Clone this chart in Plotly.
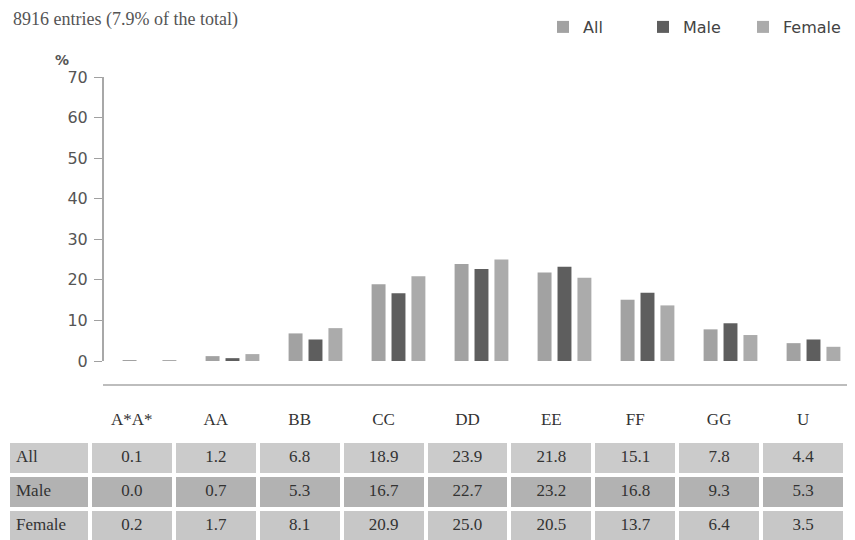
import plotly.graph_objects as go

categories = ["A*A*", "AA", "BB", "CC", "DD", "EE", "FF", "GG", "U"]
all_vals = [0.1, 1.2, 6.8, 18.9, 23.9, 21.8, 15.1, 7.8, 4.4]
male_vals = [0.0, 0.7, 5.3, 16.7, 22.7, 23.2, 16.8, 9.3, 5.3]
female_vals = [0.2, 1.7, 8.1, 20.9, 25.0, 20.5, 13.7, 6.4, 3.5]
series_names = ["All", "Male", "Female"]
y_ticks = [0, 10, 20, 30, 40, 50, 60, 70]
title_text = "8916 entries (7.9% of the total)"

bar_colors = ["#a2a2a2", "#5e5e5e", "#ababab"]
row_colors = ["#cbcbcb", "#b2b2b2", "#c7c7c7"]

# page body has an 8px margin: the figure is sized/positioned to compensate
OFF = 8
W, H = 855 - OFF, 540 - OFF
T = 77 - OFF
plot_h = H - T


def fx(p):
    return (p - OFF) / W


def fy(p):
    return (H - (p - OFF)) / plot_h


fig = go.Figure()
for name, vals, col in zip(series_names, [all_vals, male_vals, female_vals], bar_colors):
    fig.add_trace(go.Bar(x=categories, y=vals, name=name, marker=dict(color=col, line=dict(width=0)),
                         xaxis="x", yaxis="y"))

# table
fmt = lambda v: f"{v:.1f}"
columns = [series_names] + [[fmt(a), fmt(m), fmt(f)] for a, m, f in zip(all_vals, male_vals, female_vals)]
fills = [row_colors for _ in columns]
fig.add_trace(go.Table(
    domain=dict(x=[0, fx(845)], y=[0, fy(404)]),
    columnwidth=[82] + [84] * len(categories),
    header=dict(values=[""] + categories, fill=dict(color="white"), line=dict(color="white", width=0),
                font=dict(family="Liberation Serif", size=17, color="#333"), align="center", height=37),
    cells=dict(values=columns, fill=dict(color=fills), line=dict(color="white", width=4),
               font=dict(family="Liberation Serif", size=17, color="#333"),
               align=["left"] + ["center"] * len(categories), height=34),
))

fig.update_layout(
    width=W, height=H,
    margin=dict(l=0, r=0, t=T, b=0, autoexpand=False),
    paper_bgcolor="white", plot_bgcolor="white",
    barmode="group", bargap=0.28, bargroupgap=0.3,
    title=dict(text=title_text, x=fx(13), y=1 - 4 / H, xanchor="left", yanchor="top",
               xref="container", yref="container", automargin=False, pad=dict(t=0),
               font=dict(family="Liberation Serif", size=18, color="#555")),
    xaxis=dict(domain=[fx(103), 1], range=[-0.56, 8.5], showticklabels=False, ticks="",
               showline=True, linecolor="#bdbdbd", linewidth=2, showgrid=False, zeroline=False,
               fixedrange=True),
    yaxis=dict(domain=[fy(384), 1], range=[-5.67, 70], tickvals=y_ticks, ticks="outside",
               ticklen=8, tickcolor="#a0a0a0", tickwidth=1, showline=False, showgrid=False,
               zeroline=False, tickfont=dict(family="DejaVu Sans", size=16, color="#555"),
               ticklabelstandoff=3),
    legend=dict(orientation="h", x=fx(543), y=fy(10), xanchor="left", yanchor="top",
                font=dict(family="DejaVu Sans", size=16, color="#444"),
                entrywidth=55, entrywidthmode="pixels", traceorder="normal",
                bgcolor="rgba(0,0,0,0)"),
    showlegend=True,
)
fig.add_shape(type="line", xref="paper", yref="y", x0=fx(103), x1=fx(103), y0=0, y1=70,
              line=dict(color="#a8a8a8", width=2))
fig.add_annotation(text="<b>%</b>", xref="paper", yref="paper", x=fx(62), y=fy(60),
                   xanchor="center", yanchor="middle", showarrow=False,
                   font=dict(family="DejaVu Sans", size=14, color="#555"))

fig.write_html("out.html")
